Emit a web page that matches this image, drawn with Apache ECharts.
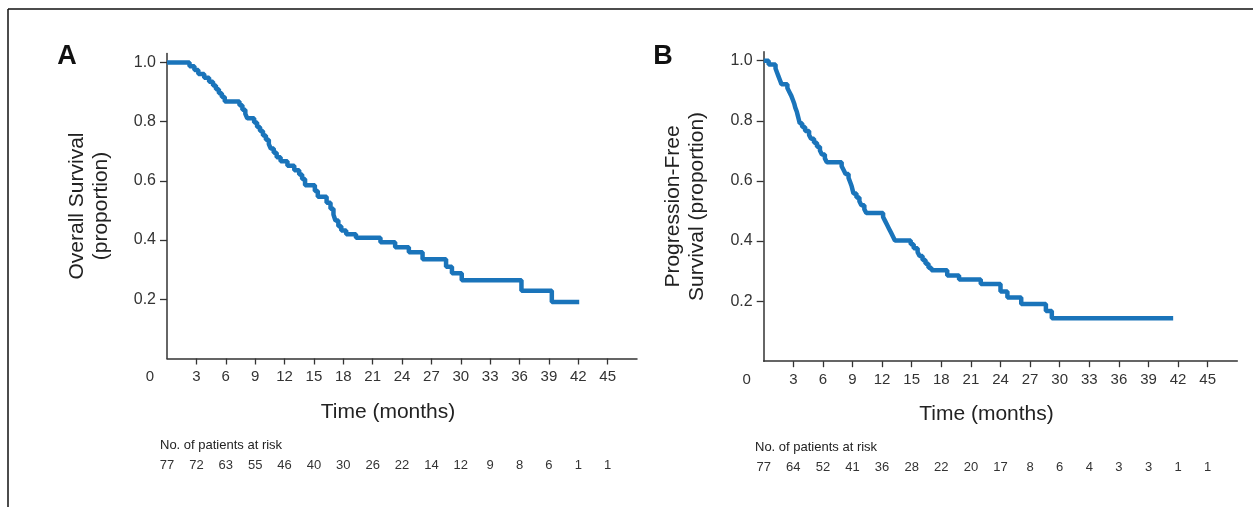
<!DOCTYPE html>
<html>
<head>
<meta charset="utf-8">
<script src="https://cdn.jsdelivr.net/npm/echarts@6/dist/echarts.min.js"></script>
<style>
html,body{margin:0;padding:0;background:#fff;}
#c{width:1253px;height:507px;}
</style>
</head>
<body>
<div id="c"></div>
<script>
// ---- data ----
const timeTicks = [0,3,6,9,12,15,18,21,24,27,30,33,36,39,42,45];
const yTicks = [0.2,0.4,0.6,0.8,1.0];
const atRiskA = [77,72,63,55,46,40,30,26,22,14,12,9,8,6,1,1];
const atRiskB = [77,64,52,41,36,28,22,20,17,8,6,4,3,3,1,1];

const osTime = [0,2.3,2.8,3.2,3.8,4.3,4.7,5.0,5.3,5.6,5.9,7.4,7.7,8.0,8.2,8.9,9.2,9.5,9.8,10.1,10.4,10.6,10.9,11.2,11.6,12.3,13.0,13.5,13.8,14.1,15.1,15.4,16.3,16.7,17.0,17.2,17.5,17.8,18.3,19.3,21.8,23.3,24.7,26.1,28.5,29.1,30.1,36.2,39.3,42.1];
const osSurv = [1.0,0.987,0.974,0.961,0.948,0.935,0.922,0.909,0.896,0.883,0.868,0.855,0.840,0.826,0.811,0.797,0.782,0.768,0.753,0.739,0.724,0.709,0.695,0.680,0.666,0.651,0.636,0.621,0.606,0.585,0.566,0.546,0.526,0.506,0.486,0.466,0.447,0.432,0.420,0.408,0.393,0.376,0.359,0.335,0.310,0.288,0.264,0.229,0.191,0.191];

const pfsTime = [0,0.5,1.2,1.35,1.5,1.65,1.8,2.4,2.6,2.8,2.95,3.1,3.2,3.35,3.45,3.55,3.65,3.9,4.2,4.6,4.8,5.1,5.4,5.7,5.9,6.2,6.4,7.9,8.1,8.3,8.6,8.75,8.9,9.0,9.1,9.4,9.7,9.9,10.2,10.4,12.1,12.3,12.5,12.7,12.9,13.1,13.3,14.9,15.2,15.6,15.8,16.1,16.4,16.7,17.0,18.6,19.8,22.0,24.0,24.7,26.1,28.6,29.2,41.5];
const pfsSurv = [1.0,0.987,0.974,0.961,0.948,0.935,0.922,0.909,0.896,0.883,0.870,0.857,0.844,0.831,0.818,0.805,0.792,0.779,0.766,0.753,0.740,0.727,0.714,0.701,0.688,0.675,0.662,0.649,0.636,0.623,0.610,0.597,0.584,0.571,0.558,0.545,0.532,0.519,0.506,0.493,0.480,0.467,0.454,0.441,0.428,0.415,0.402,0.389,0.376,0.363,0.350,0.337,0.324,0.311,0.303,0.285,0.272,0.257,0.232,0.212,0.190,0.167,0.143,0.143];

// ---- styles ----
const NARROW = "'Liberation Sans Narrow','Arial Narrow','Liberation Sans',sans-serif";
const SANS = "'Liberation Sans',Arial,sans-serif";
const AX = '#333';
const BLUE = '#1a74ba';

function pairs(t, s){ return t.map((v,i)=>[v, s[i]]); }

function xMain(grid){
  return {
    type:'value', gridIndex:grid, min:0, max:48, interval:3,
    splitLine:{show:false},
    axisLine:{show:true, lineStyle:{color:AX, width:1.5}},
    axisTick:{show:true, length:6, inside:false, customValues: timeTicks.slice(1), lineStyle:{color:AX, width:1.3}},
    axisLabel:{
      customValues: timeTicks, margin:11, color:AX, fontSize:15, fontFamily:NARROW,
      formatter: v => v === 0 ? '{o|0}' : String(v),
      rich:{o:{padding:[0,34,0,0], fontSize:15, fontFamily:NARROW, color:AX}}
    },
    name:'Time (months)', nameLocation:'middle', nameGap:43,
    nameTextStyle:{fontSize:21, fontFamily:NARROW, color:'#222', padding:[0,28,0,0]}
  };
}
function xRisk(grid, arr){
  return {
    type:'value', gridIndex:grid, min:0, max:48, interval:3, position:'bottom', offset:92,
    splitLine:{show:false}, axisLine:{show:false}, axisTick:{show:false},
    axisLabel:{customValues: timeTicks, margin:8, color:'#333', fontSize:13, fontFamily:SANS,
      formatter: v => { const i = timeTicks.indexOf(v); return i >= 0 ? String(arr[i]) : ''; }}
  };
}
function yMain(grid, name){
  return {
    type:'value', gridIndex:grid, min:0, max:1.03, interval:0.2,
    splitLine:{show:false},
    axisLine:{show:true, lineStyle:{color:AX, width:1.5}},
    axisTick:{show:true, length:7, customValues:yTicks, lineStyle:{color:AX, width:1.3}},
    axisLabel:{customValues:yTicks, margin:11, color:AX, fontSize:16, fontFamily:NARROW,
      formatter: v => v.toFixed(1)},
    name:name, nameLocation:'middle', nameGap:54, nameRotate:90,
    nameTextStyle:{fontSize:21, lineHeight:24, fontFamily:NARROW, color:'#222', align:'center'}
  };
}

const chart = echarts.init(document.getElementById('c'), null, {renderer:'canvas'});
chart.setOption({
  backgroundColor:'#fff',
  animation:false,
  grid:[
    {left:167, top:53.5, width:470, height:305},
    {left:763.7, top:51.7, width:473.6, height:309.5}
  ],
  xAxis:[ xMain(0), xRisk(0, atRiskA), xMain(1), xRisk(1, atRiskB) ],
  yAxis:[ yMain(0, 'Overall Survival\n(proportion)'), yMain(1, 'Progression-Free\nSurvival (proportion)') ],
  series:[
    {type:'line', xAxisIndex:0, yAxisIndex:0, step:'end', showSymbol:false, data:pairs(osTime, osSurv),
     lineStyle:{color:BLUE, width:4.5}, itemStyle:{color:BLUE}},
    {type:'line', xAxisIndex:2, yAxisIndex:1, step:'end', showSymbol:false, data:pairs(pfsTime, pfsSurv),
     lineStyle:{color:BLUE, width:4.5}, itemStyle:{color:BLUE}}
  ],
  graphic:[
    {type:'line', shape:{x1:8, y1:9, x2:1253, y2:9}, style:{stroke:'#111', lineWidth:1.5}},
    {type:'line', shape:{x1:8, y1:9, x2:8, y2:507}, style:{stroke:'#111', lineWidth:1.5}},
    {type:'text', style:{x:67, y:57, text:'A', align:'center', verticalAlign:'middle', font:"bold 27px 'Liberation Sans',Arial,sans-serif", fill:'#111'}},
    {type:'text', style:{x:663, y:57, text:'B', align:'center', verticalAlign:'middle', font:"bold 27px 'Liberation Sans',Arial,sans-serif", fill:'#111'}},
    {type:'text', style:{x:160, y:445, text:'No. of patients at risk', align:'left', verticalAlign:'middle', font:"13px 'Liberation Sans',Arial,sans-serif", fill:'#222'}},
    {type:'text', style:{x:755, y:447, text:'No. of patients at risk', align:'left', verticalAlign:'middle', font:"13px 'Liberation Sans',Arial,sans-serif", fill:'#222'}}
  ]
});
</script>
</body>
</html>
